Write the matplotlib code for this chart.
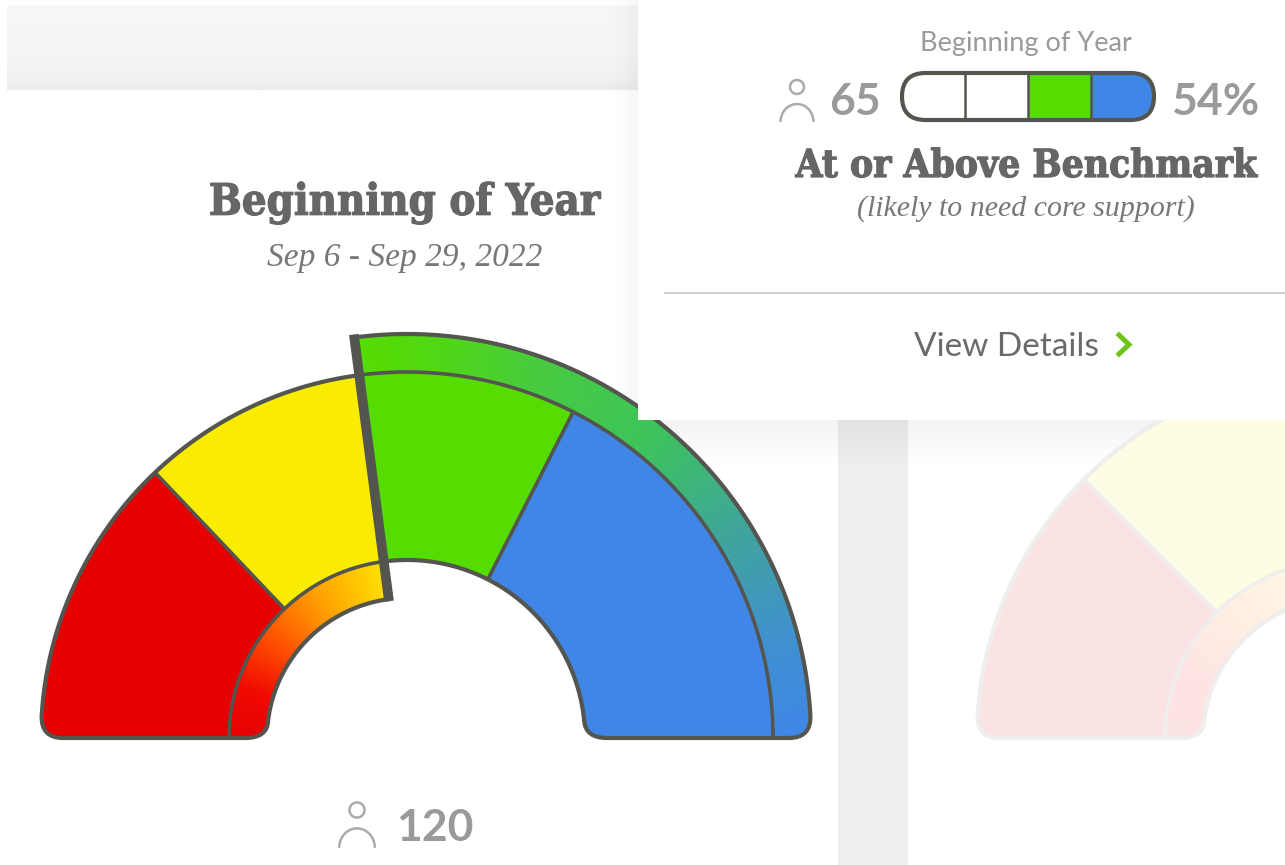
import numpy as np
import matplotlib
matplotlib.use('Agg')
import matplotlib.pyplot as plt
import matplotlib.patheffects as pe
from matplotlib.path import Path
from matplotlib.patches import PathPatch, Polygon, Rectangle, Circle, Arc, FancyBboxPatch
from matplotlib.colors import LinearSegmentedColormap, to_rgb

# data
band_names = ['Well Below', 'Below', 'At', 'Above']
band_colors = ['#E60000', '#FAEC00', '#55DC00', '#3F86E6']
counts = [31, 24, 23, 42]
faded_counts = [25, 30, 20, 25]
total_students = '120'
above_students = '65'
above_percent = '54%'
pill_colors = ['white', 'white', '#55DC00', '#3F86E6']

title = 'Beginning of Year'
dates = 'Sep 6 - Sep 29, 2022'
tip_title = 'Beginning of Year'
tip_label = 'At or Above Benchmark'
tip_note = '(likely to need core support)'
tip_link = 'View Details'

LINE = '#55554F'
R_IN, R_MID, R_MAIN, R_OUT = 140, 178, 366, 404
CORNER = 22

inner_cmap = LinearSegmentedColormap.from_list('inner', [(0, '#E60000'), (0.2, '#F00800'), (0.42, '#FF4A00'), (0.7, '#FF9F00'), (1, '#FFE000')])
outer_cmap = LinearSegmentedColormap.from_list('outer', [(0, '#3F86E6'), (0.14, '#3F90D0'), (0.33, '#3FA59A'), (0.53, '#3CC45A'), (0.72, '#47CB40'), (0.9, '#52D810'), (1, '#55DC00')])


def pt(cx, cy, r, deg):
	a = np.radians(deg)
	return cx + r * np.cos(a), cy - r * np.sin(a)


def arc_pts(cx, cy, r, a1, a2, n=120):
	return [pt(cx, cy, r, a) for a in np.linspace(a1, a2, n)]


def sector(cx, cy, r1, r2, a1, a2):
	return arc_pts(cx, cy, r2, a1, a2) + arc_pts(cx, cy, r1, a2, a1)


def fade(color, k):
	c = np.array(to_rgb(color))
	return tuple(1 - (1 - c) * k)


def outline_path(cx, cy, split):
	off = np.degrees(np.arcsin(CORNER / R_MAIN))
	off2 = np.degrees(np.arcsin(CORNER / R_OUT))
	off3 = np.degrees(np.arcsin(18 / R_IN))
	off4 = np.degrees(np.arcsin(18 / R_MID))
	verts = arc_pts(cx, cy, R_MAIN, split, 180 - off)
	codes = [Path.MOVETO] + [Path.LINETO] * (len(verts) - 1)
	# left foot
	verts += [(cx - R_MAIN, cy), (cx - R_MAIN + CORNER, cy), (cx - R_IN - 22, cy), (cx - R_IN + 1, cy), pt(cx, cy, R_IN, 180 - off3)]
	codes += [Path.CURVE3, Path.CURVE3, Path.LINETO, Path.CURVE3, Path.CURVE3]
	a = arc_pts(cx, cy, R_IN, 180 - off3, split) + arc_pts(cx, cy, R_MID, split, off4)
	verts += a
	codes += [Path.LINETO] * len(a)
	# right foot
	verts += [(cx + R_MID, cy), (cx + R_MID + 22, cy), (cx + R_OUT - CORNER, cy), (cx + R_OUT, cy), pt(cx, cy, R_OUT, off2)]
	codes += [Path.CURVE3, Path.CURVE3, Path.LINETO, Path.CURVE3, Path.CURVE3]
	a = arc_pts(cx, cy, R_OUT, off2, split)
	verts += a
	codes += [Path.LINETO] * len(a)
	verts.append(verts[0])
	codes.append(Path.CLOSEPOLY)
	return Path(verts, codes)


def gauge(ax, cx, cy, values, k=1.0, k_line=1.0, z=3):
	vals = np.array(values, dtype=float)
	edges = 180 - np.cumsum(np.r_[0, vals]) / vals.sum() * 180
	split = edges[2]
	line = fade(LINE, k_line)
	path = outline_path(cx, cy, split)
	clip = PathPatch(path, transform=ax.transData, fc='none', ec='none')
	ax.add_patch(clip)

	def add(poly, color):
		p = Polygon(poly, closed=True, fc=color, ec=color, lw=0.6, zorder=z)
		ax.add_patch(p)
		p.set_clip_path(clip)

	for i in range(4):
		add(sector(cx, cy, R_MID, R_MAIN, edges[i + 1], edges[i]), fade(band_colors[i], k))
	# gradient bands, inner one on the left and outer one on the right
	steps = np.linspace(180, split, 91)
	for i in range(90):
		add(sector(cx, cy, R_IN, R_MID, steps[i + 1], steps[i], ), fade(inner_cmap(i / 89), k))
	steps = np.linspace(0, split, 91)
	for i in range(90):
		add(sector(cx, cy, R_MAIN, R_OUT, steps[i + 1], steps[i]), fade(outer_cmap(i / 89), k))

	def stroke(xy, lw, cap='butt'):
		x, y = zip(*xy)
		l, = ax.plot(x, y, color=line, lw=lw, solid_capstyle=cap, zorder=z + 1)
		l.set_clip_path(clip)

	stroke(arc_pts(cx, cy, R_MID, 180, split), 2.6)
	stroke(arc_pts(cx, cy, R_MAIN, split, 0), 2.6)
	for e in (edges[1], edges[3]):
		stroke([pt(cx, cy, R_MID, e), pt(cx, cy, R_MAIN, e)], 2.6)
	ax.add_patch(PathPatch(path, fc='none', ec=line, lw=3.0, zorder=z + 1))
	ax.plot(*zip(pt(cx, cy, R_IN - 2, split), pt(cx, cy, R_OUT + 3, split)), color=line, lw=7.0, solid_capstyle='butt', zorder=z + 2)


def person(ax, x, y, s, z=8):
	ax.add_patch(Circle((x, y), 7 * s, fc='none', ec='#ABABAB', lw=1.8, zorder=z))
	ax.add_patch(Arc((x, y + 35 * s), 33 * s, 36 * s, theta1=180, theta2=360, ec='#ABABAB', lw=1.8, zorder=z))


def shadow(ax, extent, horizontal, top_alpha, z):
	# black image whose alpha runs out to zero, darkest next to the card
	a = np.linspace(top_alpha, 0, 60) ** 1.3 / top_alpha ** 0.3
	img = np.zeros((60, 1, 4)) if not horizontal else np.zeros((1, 60, 4))
	img[..., 3] = a.reshape(img.shape[:2])
	ax.imshow(img, extent=extent, aspect='auto', zorder=z, interpolation='bilinear')


fig = plt.figure(figsize=(12.85, 8.65), dpi=100)
ax = fig.add_axes([0, 0, 1, 1])
ax.axis('off')

# page background pieces
grad = np.linspace(0, 1, 60).reshape(-1, 1)
gray = LinearSegmentedColormap.from_list('g', [(0, '#F7F7F7'), (0.6, '#F5F5F5'), (0.85, '#F1F1F1'), (1, '#ECECEC')])
ax.imshow(grad, cmap=gray, extent=[7, 660, 90, 5], aspect='auto', zorder=1)
ax.add_patch(Rectangle((838, 400), 70, 465, fc='#EEEEEE', ec='none', zorder=1))

gauge(ax, 407, 738, counts)
gauge(ax, 1343, 738, faded_counts, k=0.11, k_line=0.1)

# tooltip card with soft shadow, it lies under the gauges
shadow(ax, [625, 1285, 475, 420], False, 0.05, 2)
shadow(ax, [638, 606, 420, 0], True, 0.035, 2)
ax.add_patch(Rectangle((638, -10), 700, 430, fc='white', ec='none', zorder=7))

ax.set_xlim(0, 1285)
ax.set_ylim(865, 0)

grey = '#9A9A9A'
dark = '#666666'
fat = [pe.withStroke(linewidth=0.9, foreground=dark)]
ax.text(405, 203, title, family='DejaVu Serif', stretch='condensed', weight='bold', fontsize=31.2, color=dark, ha='center', va='center', zorder=8, path_effects=fat)
ax.text(405, 258, dates, family='Liberation Serif', style='italic', fontsize=24, color='#777777', ha='center', va='center', zorder=8)
person(ax, 357, 810, 1.08)
ax.text(435, 828, total_students, family='Lato', weight='bold', fontsize=32, color=grey, ha='center', va='center', zorder=8)

ax.text(1026, 43, tip_title, family='Lato', fontsize=19.5, color=grey, ha='center', va='center', zorder=8)
person(ax, 797, 87, 1.0)
ax.text(855, 102, above_students, family='Lato', weight='bold', fontsize=32, color=grey, ha='center', va='center', zorder=8)
ax.text(1215, 102, above_percent, family='Lato', weight='bold', fontsize=32, color=grey, ha='center', va='center', zorder=8)

# pill
x0, x1, y0, y1 = 902, 1154, 73, 120
rad = (y1 - y0) / 2
pill = FancyBboxPatch((x0 + rad, y0 + rad), x1 - x0 - 2 * rad, 0.01, boxstyle='round,pad=%f,rounding_size=%f' % (rad, rad), fc='white', ec='none', zorder=8)
ax.add_patch(pill)
w = (x1 - x0) / 4
bars = ax.bar([x0 + w * (i + 0.5) for i in range(4)], [y1 - y0] * 4, width=w, bottom=y0, color=pill_colors, zorder=9)
for b in bars:
	b.set_clip_path(pill)
for i in (1, 2, 3):
	ax.plot([x0 + w * i] * 2, [y0, y1], color=LINE, lw=1.8, zorder=10)
ax.add_patch(FancyBboxPatch((x0 + rad, y0 + rad), x1 - x0 - 2 * rad, 0.01, boxstyle='round,pad=%f,rounding_size=%f' % (rad, rad), fc='none', ec=LINE, lw=3, zorder=11))

ax.text(1026, 166, tip_label, family='DejaVu Serif', stretch='condensed', weight='bold', fontsize=27.8, color=dark, ha='center', va='center', zorder=8, path_effects=fat)
ax.text(1026, 209, tip_note, family='Liberation Serif', style='italic', fontsize=21.5, color='#777777', ha='center', va='center', zorder=8)
ax.plot([665, 1285], [293, 293], color='#CFCFCF', lw=1.5, zorder=8)
ax.text(1006, 347, tip_link, family='Lato', fontsize=24, color='#6A6A6A', ha='center', va='center', zorder=8)
ax.plot([1119, 1129, 1119], [335, 344.5, 354], color='#6CC417', lw=3.6, solid_joinstyle='miter', zorder=8)

fig.savefig('out.png', dpi=100)
